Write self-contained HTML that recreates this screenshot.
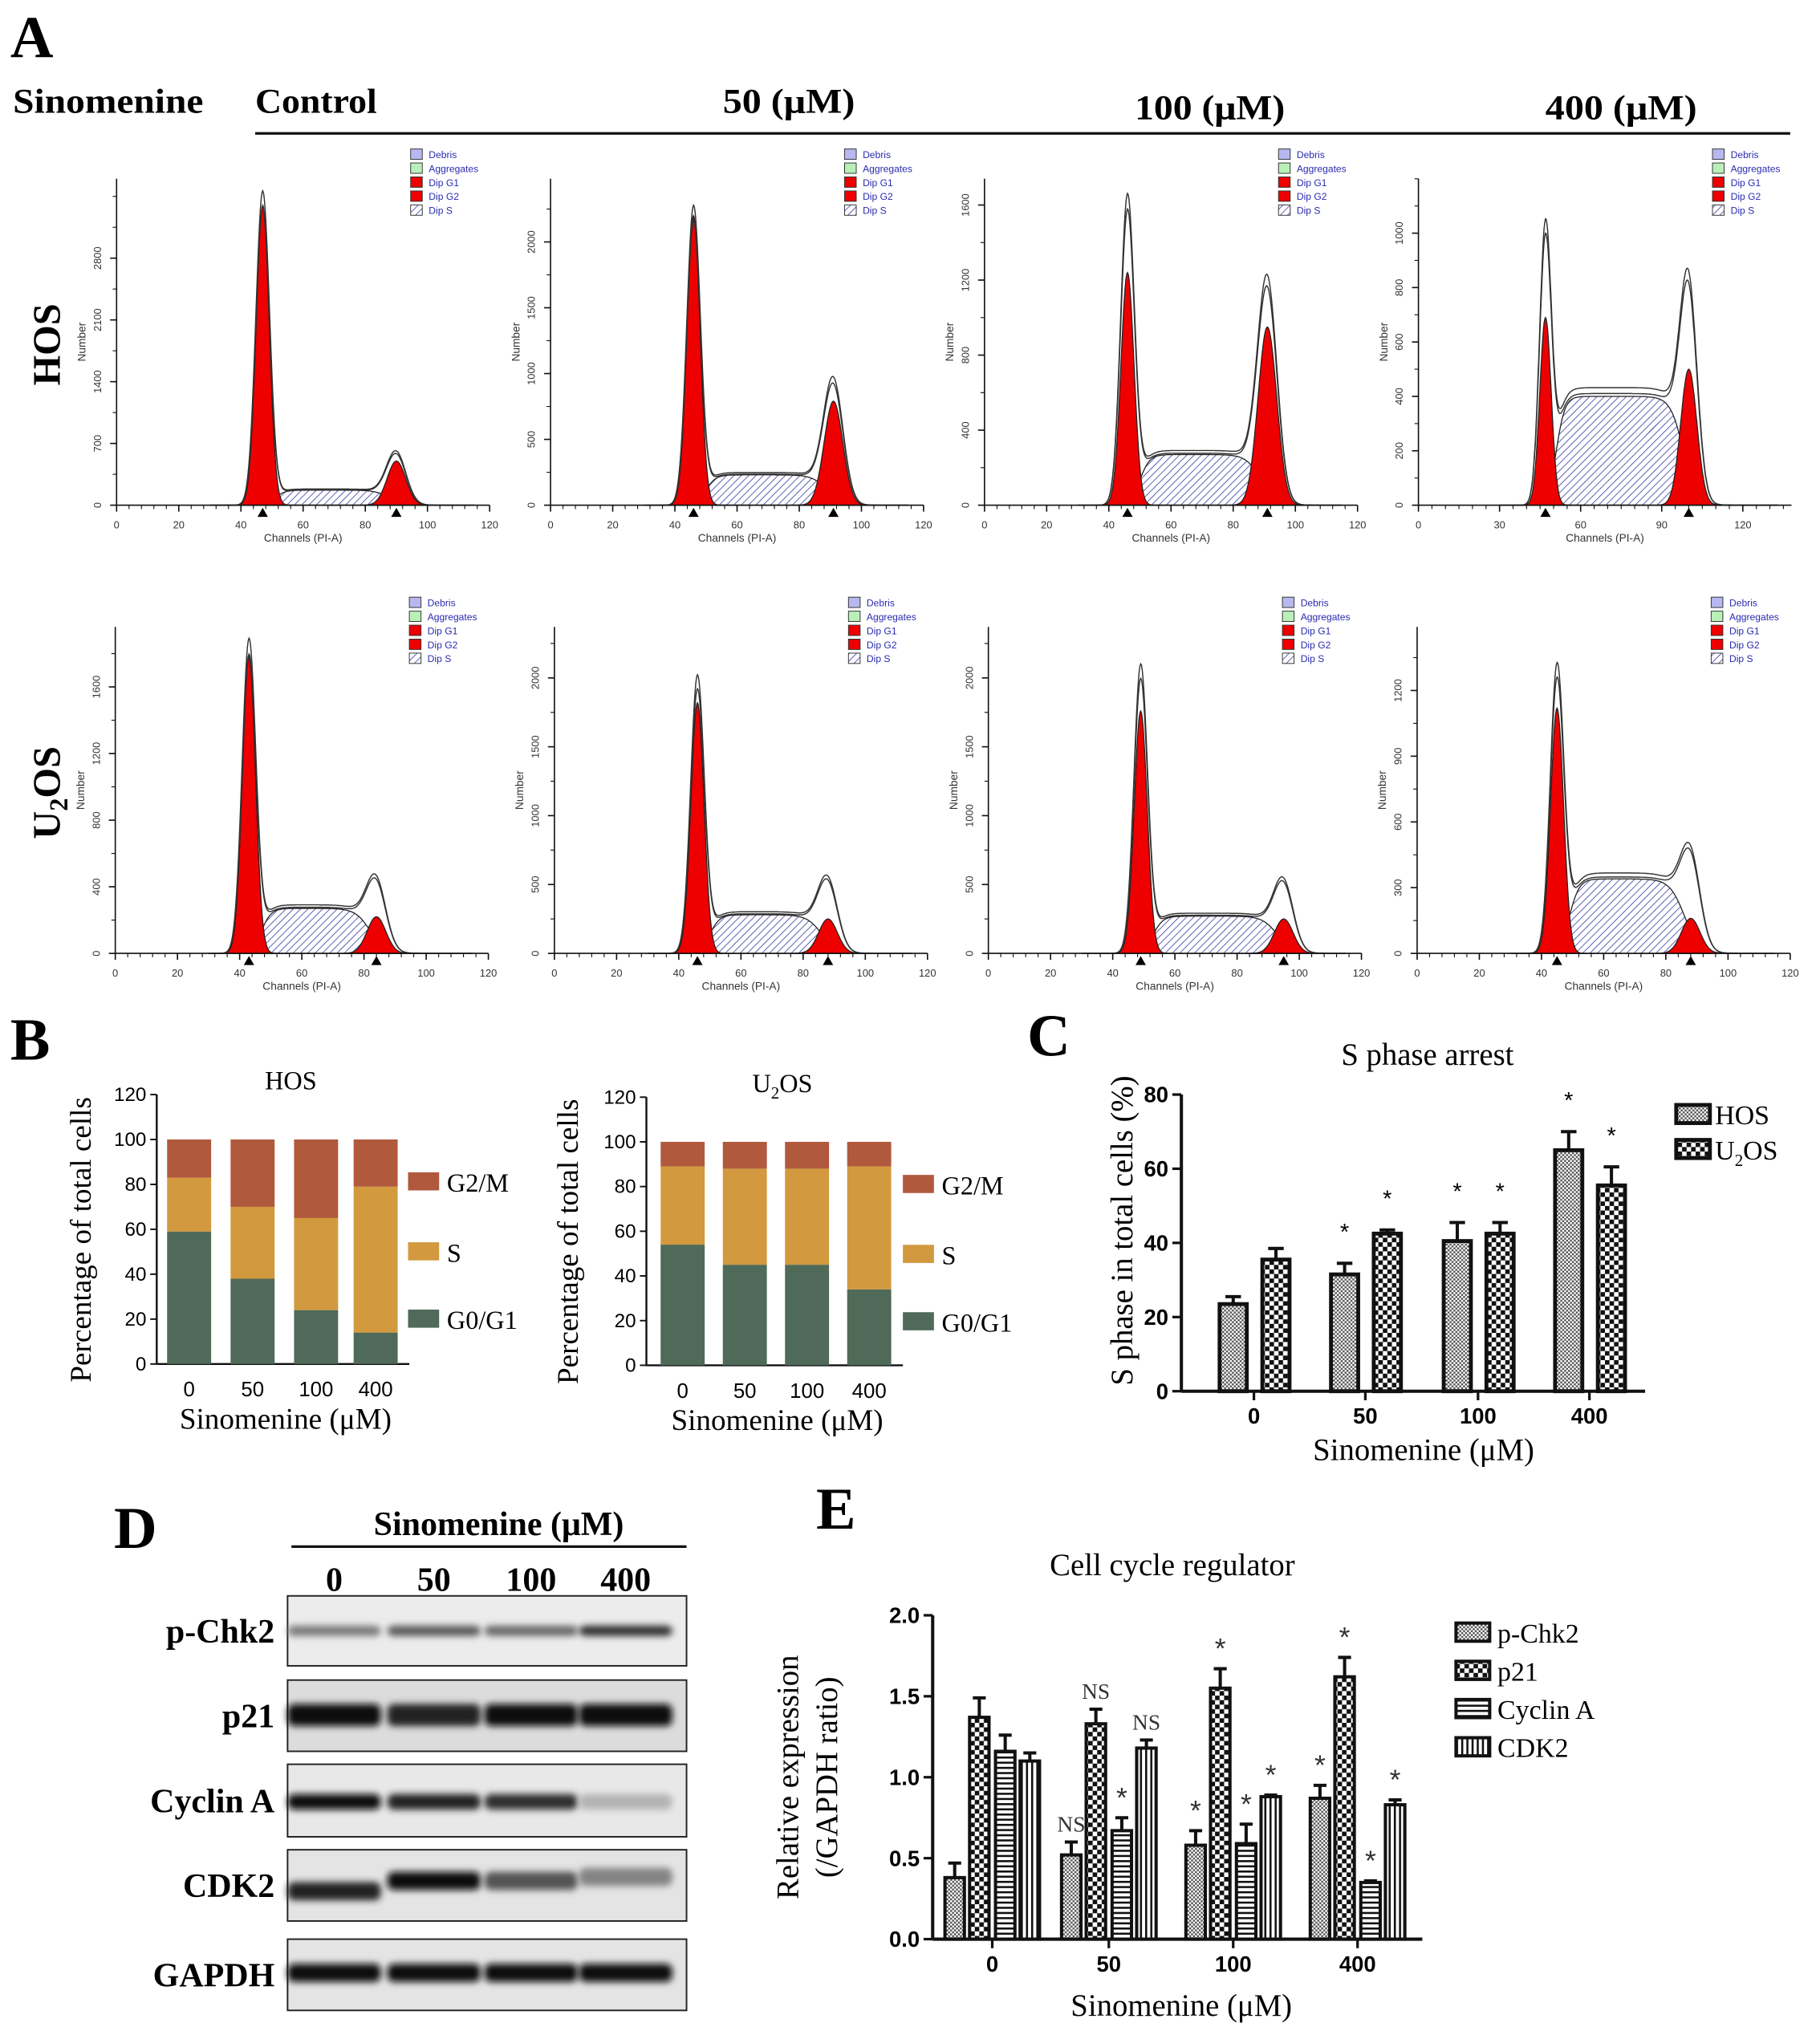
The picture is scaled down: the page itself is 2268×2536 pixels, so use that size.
<!DOCTYPE html>
<html><head><meta charset="utf-8">
<style>
html,body{margin:0;padding:0;background:#fff;}
svg{display:block;}
.serif{font-family:"Liberation Serif","DejaVu Serif",serif;}
.sans{font-family:"Liberation Sans","DejaVu Sans",sans-serif;}
.narrow{font-family:"Liberation Sans Narrow","Liberation Sans",sans-serif;font-weight:bold;}
</style></head>
<body>
<svg id="fig" xmlns="http://www.w3.org/2000/svg" width="2268" height="2536" viewBox="0 0 1405 1571" preserveAspectRatio="none">
<defs>
  <pattern id="hatch" patternUnits="userSpaceOnUse" width="4" height="4" patternTransform="rotate(45)">
    <rect width="4" height="4" fill="#fff"/><line x1="0" y1="0" x2="0" y2="4" stroke="#3a3aa8" stroke-width="1"/>
  </pattern>
  <pattern id="fine" patternUnits="userSpaceOnUse" width="3" height="3">
    <rect width="3" height="3" fill="#fff"/><rect width="1.5" height="1.5" fill="#555"/><rect x="1.5" y="1.5" width="1.5" height="1.5" fill="#555"/>
  </pattern>
  <pattern id="coarse" patternUnits="userSpaceOnUse" width="7" height="7">
    <rect width="7" height="7" fill="#fff"/><rect width="3.5" height="3.5" fill="#111"/><rect x="3.5" y="3.5" width="3.5" height="3.5" fill="#111"/>
  </pattern>
  <pattern id="hstripe" patternUnits="userSpaceOnUse" width="4" height="4">
    <rect width="4" height="4" fill="#fff"/><rect width="4" height="1.6" fill="#111"/>
  </pattern>
  <pattern id="vstripe" patternUnits="userSpaceOnUse" width="4" height="4">
    <rect width="4" height="4" fill="#fff"/><rect width="1.6" height="4" fill="#111"/>
  </pattern>
  <filter id="blur" x="-20%" y="-100%" width="140%" height="300%"><feGaussianBlur stdDeviation="2.6"/></filter>
</defs>
<g id="root"></g>
</svg>
<script>
// ===== Panel A data (flow cytometry histograms) =====
const histG1Pos   = [47, 46, 46, 47, 43, 46, 49, 45];
const histG1Peak  = [3400, 2200, 1240, 690, 1780, 1820, 1760, 1120];
const histG1Out   = [3550, 2260, 1640, 1020, 1870, 2000, 2080, 1300];
const histSLevel  = [170, 230, 270, 400, 270, 280, 270, 340];
const histG2Pos   = [90, 91, 91, 100, 84, 88, 95, 88];
const histG2Peak  = [500, 790, 950, 500, 220, 250, 250, 160];
const histG2Out   = [560, 900, 1140, 730, 380, 470, 460, 380];
const histYMax    = [3700, 2480, 1740, 1200, 1960, 2370, 2370, 1490];
const histYTicks  = [[0,700,1400,2100,2800],[0,500,1000,1500,2000],[0,400,800,1200,1600],[0,200,400,600,800,1000],
                     [0,400,800,1200,1600],[0,500,1000,1500,2000],[0,500,1000,1500,2000],[0,300,600,900,1200]];
const histXMax    = [120,120,120,138,120,120,120,120];
const histXTicks  = [[0,20,40,60,80,100,120],[0,20,40,60,80,100,120],[0,20,40,60,80,100,120],[0,30,60,90,120],
                     [0,20,40,60,80,100,120],[0,20,40,60,80,100,120],[0,20,40,60,80,100,120],[0,20,40,60,80,100,120]];
// ===== Panel B data =====
const bCats = ['0','50','100','400'];
const bHosG1 = [59, 38, 24, 14];
const bHosS  = [24, 32, 41, 65];
const bU2G1  = [54, 45, 45, 34];
const bU2S   = [35, 43, 43, 55];
const bTicks = [0,20,40,60,80,100,120];
// ===== Panel C data =====
const cCats = ['0','50','100','400'];
const cHos = [23.5, 31.5, 40.5, 65];
const cHosErr = [2, 3, 5, 5];
const cU2 = [35.5, 42.5, 42.5, 55.5];
const cU2Err = [3, 1, 3, 5];
const cHosSig = ['', '*', '*', '*'];
const cU2Sig = ['', '*', '*', '*'];
const cTicks = [0,20,40,60,80];
// ===== Panel D data (band intensities) =====
const dProteins = ['p-Chk2','p21','Cyclin A','CDK2','GAPDH'];
const dIntensity = [[0.5,0.65,0.58,0.85],[1,0.92,1,1],[1,0.9,0.85,0.22],[0.9,1,0.68,0.45],[1,1,1,1]];
// ===== Panel E data =====
const eCats = ['0','50','100','400'];
const eSeries = ['p-Chk2','p21','Cyclin A','CDK2'];
const eVals = [[0.38,0.52,0.58,0.87],[1.37,1.33,1.55,1.62],[1.16,0.67,0.59,0.35],[1.10,1.18,0.88,0.83]];
const eErr  = [[0.09,0.08,0.09,0.08],[0.12,0.09,0.12,0.12],[0.10,0.08,0.12,0.01],[0.05,0.05,0.01,0.03]];
const eSig  = [['','NS','*','*'],['','NS','*','*'],['','*','*','*'],['','NS','*','*']];
const eTicks = [0,0.5,1.0,1.5,2.0];

const NS='http://www.w3.org/2000/svg';
const root=document.getElementById('root');
function mk(tag,attrs,parent,txt){const e=document.createElementNS(NS,tag);for(const k in attrs)e.setAttribute(k,attrs[k]);if(txt!==undefined)e.textContent=txt;(parent||root).appendChild(e);return e;}
function grp(name,parent){const g=mk('g',{},parent);


return g;}

// ===== Headers =====
let el;
el=mk('text',{x:8,y:44,'font-size':46,'font-weight':'bold',class:'serif'},root,'A');


el=mk('text',{x:10,y:87,'font-size':27,'font-weight':'bold',class:'serif',textLength:147,lengthAdjust:'spacingAndGlyphs'},root,'Sinomenine');


const heads=[['Control',197,87,94],['50 (μM)',558,87,102],['100 (μM)',876,92,116],['400 (μM)',1193,92,117]];
heads.forEach(h=>{el=mk('text',{x:h[1],y:h[2],'font-size':27,'font-weight':'bold',class:'serif',textLength:h[3],lengthAdjust:'spacingAndGlyphs'},root,h[0]);

});
el=mk('line',{x1:197,y1:103,x2:1382,y2:103,stroke:'#111','stroke-width':2});


el=mk('text',{x:0,y:0,'font-size':30,'font-weight':'bold',class:'serif',transform:'translate(46,266) rotate(-90)','text-anchor':'middle'},root,'HOS');


el=mk('text',{x:0,y:0,'font-size':30,'font-weight':'bold',class:'serif',transform:'translate(46,612) rotate(-90)','text-anchor':'middle'},root);
el.innerHTML='U<tspan font-size="20" dy="6">2</tspan><tspan dy="-6">OS</tspan>';



// ===== Histograms =====
const frames=[[90,390],[425,390],[760,390],[1095,390],[89,736],[428,736],[763,736],[1094,736]];
const PW=288, PH=252;
function gauss(x,m,s){return Math.exp(-0.5*((x-m)/s)**2);}
function sComp(x,a,b,l){const e1=1/(1+Math.exp(-(x-a)/1.6)), e2=1/(1+Math.exp((x-b)/2.4)); return l*e1*e2;}
for(let i=0;i<8;i++){
  const [ox,oy]=frames[i];
  const g=grp('histogram-'+(i<4?'hos':'u2os')+'-'+(i%4));
  const xs=c=>ox+c/histXMax[i]*PW, ys=v=>oy-v/histYMax[i]*PH;
  const lo=30, hi=histXMax[i]-5;
  let d='M'+xs(lo)+','+oy;
  for(let c=lo;c<=hi;c+=0.5){d+=' L'+xs(c).toFixed(1)+','+ys(sComp(c,histG1Pos[i]+4,histG2Pos[i]-2,histSLevel[i])).toFixed(1);}
  d+=' L'+xs(hi)+','+oy+'Z';
  el=mk('path',{d:d,fill:'url(#hatch)',stroke:'#222','stroke-width':0.8},g);
  
  
  [[histG1Pos[i],histG1Peak[i],2.1,'g1'],[histG2Pos[i],histG2Peak[i],3.0,'g2']].forEach(p=>{
    let d='M'+xs(p[0]-12)+','+oy;
    for(let c=p[0]-12;c<=p[0]+12;c+=0.25){d+=' L'+xs(c).toFixed(1)+','+ys(p[1]*gauss(c,p[0],p[2])).toFixed(1);}
    d+=' L'+xs(p[0]+12)+','+oy+'Z';
    el=mk('path',{d:d,fill:'#ee0000',stroke:'#222','stroke-width':0.8},g);
    
    
  });
  [1,0.95].forEach((f,k)=>{
    let d='';
    for(let c=lo;c<=hi;c+=0.25){
      const v=f*(histG1Out[i]*gauss(c,histG1Pos[i],2.2)+histG2Out[i]*gauss(c,histG2Pos[i],3.1)+1.08*sComp(c,histG1Pos[i]+4,histG2Pos[i]-2,histSLevel[i]));
      d+=(d?' L':'M')+xs(c).toFixed(1)+','+ys(v).toFixed(1);}
    el=mk('path',{d:d,fill:'none',stroke:'#333','stroke-width':0.9},g);
    
    
  });
  el=mk('line',{x1:ox,y1:oy,x2:ox+PW,y2:oy,stroke:'#111','stroke-width':1},g);
  
  
  el=mk('line',{x1:ox,y1:oy,x2:ox,y2:oy-PH,stroke:'#111','stroke-width':1},g);
  
  
  histXTicks[i].forEach(t=>{mk('line',{x1:xs(t),y1:oy,x2:xs(t),y2:oy+5,stroke:'#111'},g);
    el=mk('text',{x:xs(t),y:oy+18,'font-size':8,'text-anchor':'middle',class:'sans',fill:'#333'},g,t);
    
    });
  for(let t=0;t<=histXMax[i];t+=histXMax[i]>125?5:4){mk('line',{x1:xs(t),y1:oy,x2:xs(t),y2:oy+3,stroke:'#111','stroke-width':0.7},g);}
  histYTicks[i].forEach(t=>{mk('line',{x1:ox-5,y1:ys(t),x2:ox,y2:ys(t),stroke:'#111'},g);
    el=mk('text',{x:0,y:0,'font-size':8,'text-anchor':'middle',class:'sans',fill:'#333',transform:`translate(${ox-12},${ys(t)}) rotate(-90)`},g,t);
    
    });
  const st=histYTicks[i][1]/2;
  for(let t=0;t<=histYMax[i];t+=st){mk('line',{x1:ox-3,y1:ys(t),x2:ox,y2:ys(t),stroke:'#111','stroke-width':0.7},g);}
  el=mk('text',{x:ox+PW/2,y:oy+28,'font-size':8.5,'text-anchor':'middle',class:'sans',fill:'#333'},g,'Channels (PI-A)');
  
  
  el=mk('text',{x:0,y:0,'font-size':8.5,'text-anchor':'middle',class:'sans',fill:'#333',transform:`translate(${ox-24},${oy-PH/2}) rotate(-90)`},g,'Number');
  
  
  [histG1Pos[i],histG2Pos[i]].forEach(c=>{el=mk('path',{d:`M${xs(c)-4},${oy+9} L${xs(c)+4},${oy+9} L${xs(c)},${oy+2}Z`,fill:'#000'},g);
    
    });
  const lx=ox+227, ly=oy-275;
  const leg=[['Debris','#b8b8f0'],['Aggregates','#b8f0b8'],['Dip G1','#ee0000'],['Dip G2','#ee0000'],['Dip S','url(#hatch)']];
  leg.forEach((L,k)=>{mk('rect',{x:lx,y:ly+k*10.8,width:9,height:8,fill:L[1],stroke:'#333','stroke-width':0.6},g);
    el=mk('text',{x:lx+14,y:ly+k*10.8+7,'font-size':7.5,class:'sans',fill:'#2a2ab0'},g,L[0]);
    
    });
}

// ===== Panel B =====
el=mk('text',{x:8,y:818,'font-size':46,'font-weight':'bold',class:'serif'},root,'B');


const bColors={g1:'#4f6a58',s:'#d2993f',g2:'#b1593d'};
function stacked(ox,oy,top,g1,s,title,titleSub,lx,ylx,centers){
  const g=grp('stacked-chart-'+title);
  const ys=v=>oy-v/120*(oy-top);
  el=mk('line',{x1:ox,y1:oy,x2:ox,y2:top,stroke:'#111','stroke-width':1.5},g);
  
  
  el=mk('line',{x1:ox,y1:oy,x2:centers[3]+26,y2:oy,stroke:'#111','stroke-width':1.5},g);
  
  
  bTicks.forEach(t=>{mk('line',{x1:ox-5,y1:ys(t),x2:ox,y2:ys(t),stroke:'#111','stroke-width':1.2},g);
    el=mk('text',{x:ox-8,y:ys(t)+5,'font-size':15,'text-anchor':'end',class:'sans'},g,t);
    
    });
  bCats.forEach((c,k)=>{
    const x=centers[k]-17;
    const v=[[0,g1[k],bColors.g1,'g0g1'],[g1[k],g1[k]+s[k],bColors.s,'s'],[g1[k]+s[k],100,bColors.g2,'g2m']];
    v.forEach(b=>{el=mk('rect',{x:x,y:ys(b[1]),width:34,height:ys(b[0])-ys(b[1]),fill:b[2]},g);
      
      });
    el=mk('text',{x:centers[k],y:oy+25,'font-size':16,'text-anchor':'middle',class:'sans'},g,c);
    
    
  });
  el=mk('text',{x:(ox+centers[3]+26)/2+2,y:oy+50,'font-size':23,'text-anchor':'middle',class:'serif'},g,'Sinomenine (μM)');
  
  
  el=mk('text',{x:0,y:0,'font-size':23,'text-anchor':'middle',class:'serif',transform:`translate(${ylx},${(oy+top)/2+8}) rotate(-90)`},g,'Percentage of total cells');
  
  
  el=mk('text',{x:(ox+centers[3]+26)/2+6,y:top-4,'font-size':20,'text-anchor':'middle',class:'serif'},g);
  el.innerHTML=titleSub;
  
  
  [['G2/M',bColors.g2,0],['S',bColors.s,54],['G0/G1',bColors.g1,106]].forEach(L=>{
    mk('rect',{x:lx,y:top+60+L[2],width:24,height:14,fill:L[1]},g);
    el=mk('text',{x:lx+30,y:top+75+L[2],'font-size':20,class:'serif'},g,L[0]);
    
    
  });
}
stacked(121,1053,845,bHosG1,bHosS,'hos','HOS',315,70,[146,195,244,290]);
stacked(499,1054,847,bU2G1,bU2S,'u2os','U<tspan font-size="13" dy="5">2</tspan><tspan dy="-5">OS</tspan>',697,446,[527,575,623,671]);

// ===== Panel C =====
el=mk('text',{x:793,y:815,'font-size':46,'font-weight':'bold',class:'serif'},root,'C');


(function(){
  const g=grp('s-phase-chart');
  const ox=912, oy=1074, top=845;
  const ys=v=>oy-v/80*(oy-top);
  const cx=[968,1054,1141,1227];
  el=mk('text',{x:1102,y:822,'font-size':24,'text-anchor':'middle',class:'serif'},g,'S phase arrest');
  
  
  cTicks.forEach(t=>{mk('line',{x1:ox-7,y1:ys(t),x2:ox,y2:ys(t),stroke:'#111','stroke-width':2},g);
    el=mk('text',{x:ox-10,y:ys(t)+6,'font-size':17,'text-anchor':'end',class:'narrow'},g,t);
    
    });
  cCats.forEach((c,k)=>{
    [[cHos,cHosErr,cHosSig,-16,'url(#fine)','hos'],[cU2,cU2Err,cU2Sig,17,'url(#coarse)','u2os']].forEach(S=>{
      const x=cx[k]+S[3], v=S[0][k], e=S[1][k];
      mk('line',{x1:x,y1:ys(v),x2:x,y2:ys(v+e),stroke:'#111','stroke-width':2.5},g);
      mk('line',{x1:x-6,y1:ys(v+e),x2:x+6,y2:ys(v+e),stroke:'#111','stroke-width':2.5},g);
      el=mk('rect',{x:x-10.5,y:ys(v),width:21,height:oy-ys(v),fill:S[4],stroke:'#111','stroke-width':3},g);
      
      
      if(S[2][k]){el=mk('text',{x:x,y:ys(v+e)-18,'font-size':18,'text-anchor':'middle',class:'sans'},g,S[2][k]);
        
        }
    });
    mk('line',{x1:cx[k],y1:oy,x2:cx[k],y2:oy+7,stroke:'#111','stroke-width':2},g);
    el=mk('text',{x:cx[k],y:oy+25,'font-size':17,'text-anchor':'middle',class:'narrow'},g,c);
    
    
  });
  el=mk('line',{x1:ox,y1:oy,x2:ox,y2:top,stroke:'#111','stroke-width':2.5},g);
  
  
  el=mk('line',{x1:ox,y1:oy,x2:1270,y2:oy,stroke:'#111','stroke-width':2.5},g);
  
  
  el=mk('text',{x:1099,y:1127,'font-size':24,'text-anchor':'middle',class:'serif'},g,'Sinomenine (μM)');
  
  
  el=mk('text',{x:0,y:0,'font-size':24,'text-anchor':'middle',class:'serif',transform:'translate(874,950) rotate(-90)'},g,'S phase in total cells (%)');
  
  
  [['HOS','url(#fine)',0],['U2OS','url(#coarse)',27]].forEach(L=>{
    mk('rect',{x:1294,y:853+L[2],width:26,height:14,fill:L[1],stroke:'#111','stroke-width':3},g);
    el=mk('text',{x:1324,y:868+L[2],'font-size':21,class:'serif'},g);
    el.innerHTML=L[0]==='HOS'?'HOS':'U<tspan font-size="13" dy="5">2</tspan><tspan dy="-5">OS</tspan>';
    
    
  });
})();

// ===== Panel D =====
el=mk('text',{x:88,y:1195,'font-size':46,'font-weight':'bold',class:'serif'},root,'D');


(function(){
  const g=grp('western-blot');
  el=mk('text',{x:385,y:1185,'font-size':26,'font-weight':'bold','text-anchor':'middle',class:'serif'},g,'Sinomenine (μM)');
  
  
  mk('line',{x1:225,y1:1194,x2:530,y2:1194,stroke:'#111','stroke-width':2},g);
  const lanes=[258,335,410,483];
  bCats.forEach((c,k)=>{el=mk('text',{x:lanes[k],y:1228,'font-size':26,'font-weight':'bold','text-anchor':'middle',class:'serif'},g,c);
    
    });
  const rowsY=[1232,1297,1362,1428,1497], rowH=[54,55,56,55,55];
  const bandOff=[27,27,29,[32,24,24,21],26], bandH=[8,17,12,14,14];
  const bg=['#ececec','#dcdcdc','#e8e8e8','#e4e4e4','#e4e4e4'];
  dProteins.forEach((p,r)=>{
    const y=rowsY[r];
    el=mk('rect',{x:222,y:y,width:308,height:rowH[r],fill:bg[r],stroke:'#222','stroke-width':1.2},g);
    
    
    lanes.forEach((lx,k)=>{
      const off=Array.isArray(bandOff[r])?bandOff[r][k]:bandOff[r];
      const v=dIntensity[r][k];
      const gray=Math.round(225-210*v);
      el=mk('rect',{x:lx-36,y:y+off-bandH[r]/2,width:72,height:bandH[r],rx:5,fill:`rgb(${gray},${gray},${gray})`,filter:'url(#blur)'},g);
      
      
    });
    el=mk('text',{x:212,y:y+rowH[r]/2+9,'font-size':26,'font-weight':'bold','text-anchor':'end',class:'serif'},g,p);
    
    
  });
})();

// ===== Panel E =====
el=mk('text',{x:630,y:1180,'font-size':46,'font-weight':'bold',class:'serif'},root,'E');


(function(){
  const g=grp('regulator-chart');
  const ox=720, oy=1497, top=1247;
  const ys=v=>oy-v/2*(oy-top);
  const cx=[766,856,952,1048];
  const offs=[-29,-10,10,29];
  const fills=['url(#fine)','url(#coarse)','url(#hstripe)','url(#vstripe)'];
  el=mk('text',{x:905,y:1216,'font-size':24,'text-anchor':'middle',class:'serif'},g,'Cell cycle regulator');
  
  
  eTicks.forEach(t=>{mk('line',{x1:ox-7,y1:ys(t),x2:ox,y2:ys(t),stroke:'#111','stroke-width':2},g);
    el=mk('text',{x:ox-10,y:ys(t)+6,'font-size':17,'text-anchor':'end',class:'narrow'},g,t.toFixed(1));
    
    });
  eCats.forEach((c,k)=>{
    eSeries.forEach((s,j)=>{
      const x=cx[k]+offs[j], v=eVals[j][k], e=eErr[j][k];
      mk('line',{x1:x,y1:ys(v),x2:x,y2:ys(v+e),stroke:'#111','stroke-width':2.5},g);
      mk('line',{x1:x-5,y1:ys(v+e),x2:x+5,y2:ys(v+e),stroke:'#111','stroke-width':2.5},g);
      el=mk('rect',{x:x-7.5,y:ys(v),width:15,height:oy-ys(v),fill:fills[j],stroke:'#111','stroke-width':2.5},g);
      
      
      const sig=eSig[j][k];
      if(sig){el=mk('text',{x:x,y:ys(v+e)-8,'font-size':sig==='*'?22:17,'text-anchor':'middle',class:sig==='*'?'sans':'serif',fill:'#333'},g,sig);
        
        }
    });
    mk('line',{x1:cx[k],y1:oy,x2:cx[k],y2:oy+7,stroke:'#111','stroke-width':2},g);
    el=mk('text',{x:cx[k],y:oy+25,'font-size':17,'text-anchor':'middle',class:'narrow'},g,c);
    
    
  });
  el=mk('line',{x1:ox,y1:oy,x2:ox,y2:top,stroke:'#111','stroke-width':2.5},g);
  
  
  el=mk('line',{x1:ox,y1:oy,x2:1098,y2:oy,stroke:'#111','stroke-width':2.5},g);
  
  
  el=mk('text',{x:912,y:1556,'font-size':24,'text-anchor':'middle',class:'serif'},g,'Sinomenine (μM)');
  
  
  el=mk('text',{x:0,y:0,'font-size':24,'text-anchor':'middle',class:'serif',transform:'translate(616,1372) rotate(-90)'},g,'Relative expression');
  
  
  el=mk('text',{x:0,y:0,'font-size':24,'text-anchor':'middle',class:'serif',transform:'translate(646,1372) rotate(-90)'},g,'(/GAPDH ratio)');
  
  
  eSeries.forEach((s,j)=>{
    mk('rect',{x:1124,y:1253+j*29.5,width:26,height:14,fill:fills[j],stroke:'#111','stroke-width':2.5},g);
    el=mk('text',{x:1156,y:1268+j*29.5,'font-size':21,class:'serif'},g,s);
    
    
  });
})();
</script>
</body></html>
